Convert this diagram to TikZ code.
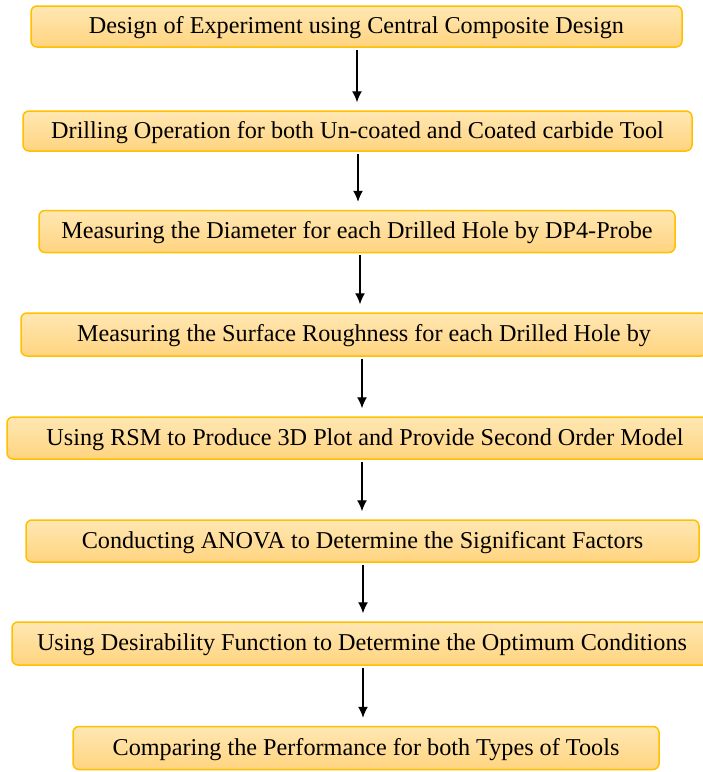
\documentclass[tikz,border=0pt]{standalone}
\usepackage{fontspec}
\setmainfont{Liberation Serif}
\usetikzlibrary{arrows.meta}
\definecolor{boxedge}{HTML}{FFC000}
\definecolor{boxtop}{HTML}{FFE7B3}
\definecolor{boxbottom}{HTML}{FFD47F}
\tikzset{
  stepbox/.style={draw=boxedge, line width=1.5pt, rounded corners=6pt,
    top color=boxtop, bottom color=boxbottom, inner sep=0pt,
    text height=18pt, text depth=4pt,
    font=\fontsize{24.2}{28}\selectfont, text=black},
  flowarrow/.style={draw=black, line width=1.3pt, -{Latex[length=11pt,width=10pt]}}
}
\begin{document}
\begin{tikzpicture}[x=1pt,y=-1pt]
\useasboundingbox (0,0) rectangle (703,772);
\node[stepbox, minimum width=651pt, minimum height=41pt] (n1) at (356.5,26.5)
  {Design of Experiment using Central Composite Design};
\node[stepbox, minimum width=669pt, minimum height=40pt] (n2) at (357.5,131)
  {Drilling Operation for both Un-coated and Coated carbide Tool};
\node[stepbox, minimum width=636pt, minimum height=42pt] (n3) at (357,231.5)
  {Measuring the Diameter for each Drilled Hole by DP4-Probe};
\node[stepbox, minimum width=686pt, minimum height=43pt] (n4) at (364,334.5)
  {Measuring the Surface Roughness for each Drilled Hole by};
\node[stepbox, minimum width=716pt, minimum height=42pt] (n5) at (365,438)
  {Using RSM to Produce 3D Plot and Provide Second Order Model};
\node[stepbox, minimum width=673pt, minimum height=42pt] (n6) at (362.5,541)
  {Conducting ANOVA to Determine the Significant Factors};
\node[stepbox, minimum width=700pt, minimum height=43pt] (n7) at (362,643.5)
  {Using Desirability Function to Determine the Optimum Conditions};
\node[stepbox, minimum width=586pt, minimum height=43pt] (n8) at (366,748)
  {Comparing the Performance for both Types of Tools};
% vertical connectors between consecutive steps
\draw[flowarrow] ([xshift=0.5pt,yshift=-2pt]n1.south) -- ([xshift=-0.5pt,yshift=8pt]n2.north);
\draw[flowarrow] ([xshift=0.5pt,yshift=-2pt]n2.south) -- ([xshift=1pt,yshift=8pt]n3.north);
\draw[flowarrow] ([xshift=3pt,yshift=-2pt]n3.south) -- ([xshift=-4pt,yshift=8pt]n4.north);
\draw[flowarrow] ([xshift=-2pt,yshift=-2pt]n4.south) -- ([xshift=-3pt,yshift=8pt]n5.north);
\draw[flowarrow] ([xshift=-3pt,yshift=-2pt]n5.south) -- ([xshift=-0.5pt,yshift=8pt]n6.north);
\draw[flowarrow] ([xshift=0.5pt,yshift=-2pt]n6.south) -- ([xshift=1pt,yshift=8pt]n7.north);
\draw[flowarrow] ([xshift=1pt,yshift=-2pt]n7.south) -- ([xshift=-3pt,yshift=8pt]n8.north);
\end{tikzpicture}
\end{document}
